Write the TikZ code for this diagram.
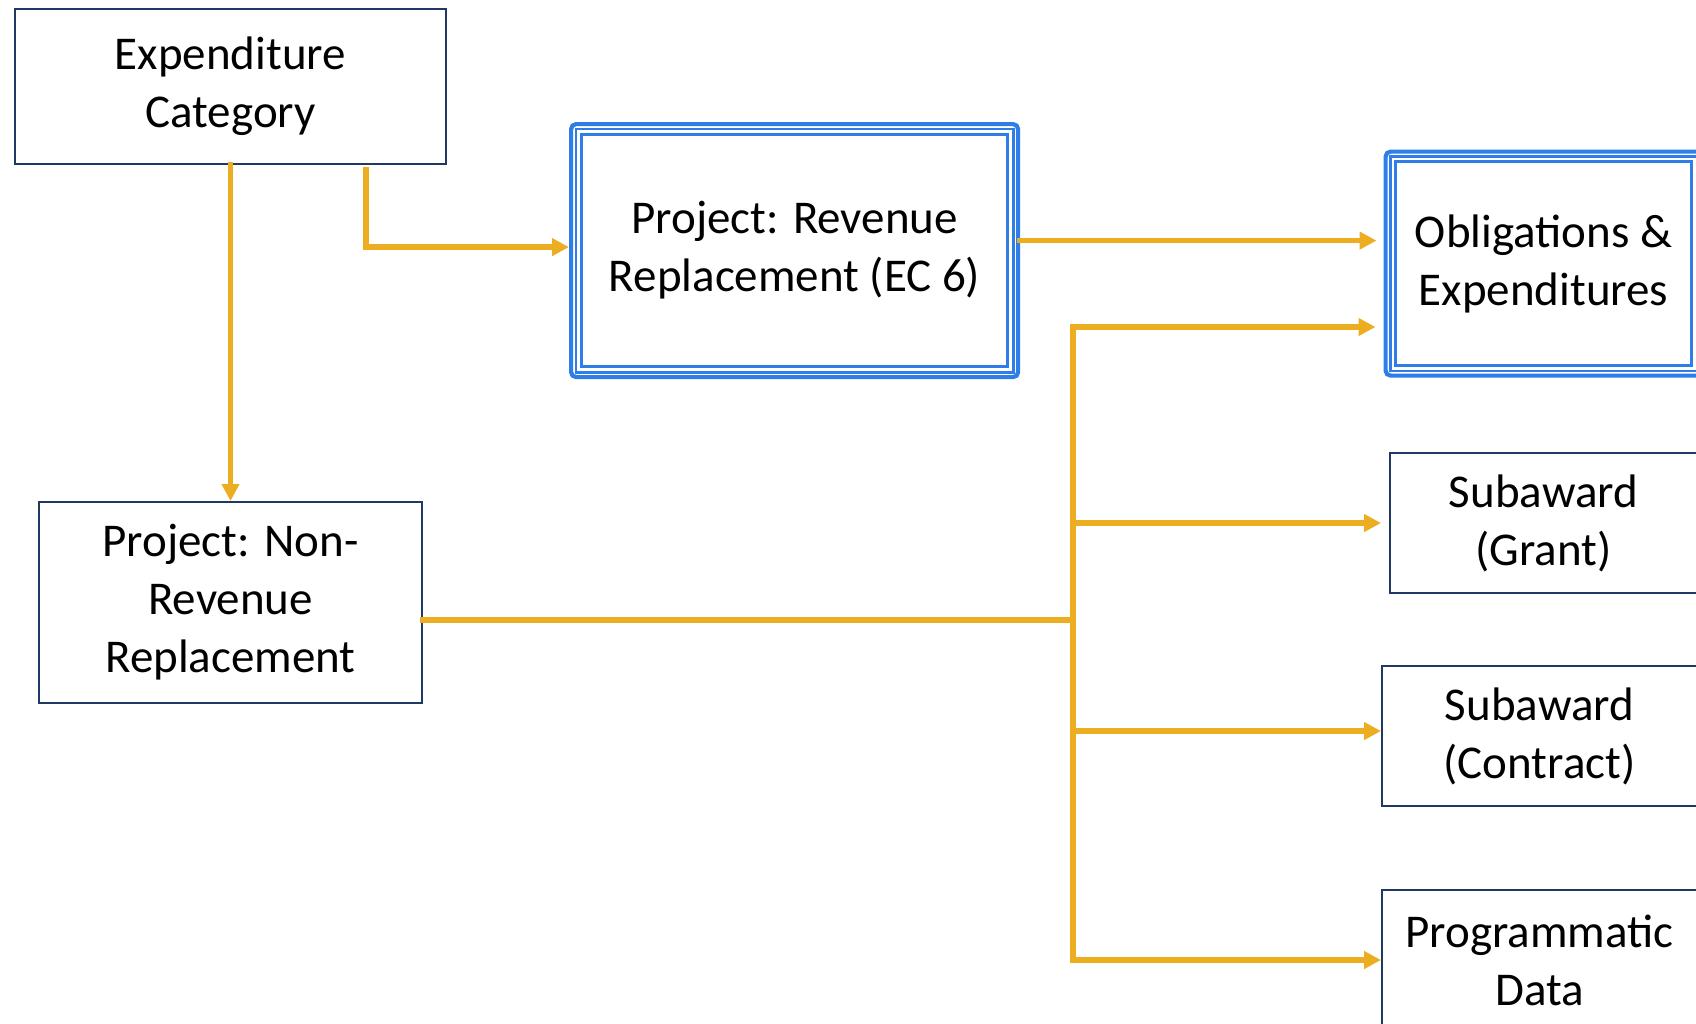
\documentclass[tikz,border=0pt]{standalone}
\usepackage{fontspec}
\setmainfont{Carlito}
\usetikzlibrary{arrows.meta,calc}
\definecolor{gold}{RGB}{237,173,33}
\definecolor{navy}{RGB}{31,56,100}
\definecolor{bl}{RGB}{47,125,230}
\begin{document}
\begin{tikzpicture}[x=1pt,y=-1pt,font=\fontsize{47}{58}\selectfont,
  box/.style={draw=navy,line width=2pt,inner sep=0pt,align=center,anchor=north west},
  dbox/.style={draw=bl,line width=4.2pt,rounded corners=5pt,inner sep=0pt,align=center,anchor=north west},
  ln/.style={draw=gold,line width=5.5pt,line cap=rect},
  arr/.style={ln,-{Triangle[length=17pt,width=17pt]}}]
\useasboundingbox (0,0) rectangle (1696,1023);
\clip (0,0) rectangle (1696,1023);
\node[box,minimum width=431pt,minimum height=155pt] (ec) at (14,8) {Expenditure\\Category};
\node[box,minimum width=383pt,minimum height=201pt] (nr) at (38,501) {Project: Non-\\Revenue\\Replacement};
\node[dbox,minimum width=447pt,minimum height=253pt] (rev) at (569,122) {Project: Revenue\\Replacement (EC 6)};
\draw[bl,line width=2.8pt] ([xshift=7pt,yshift=-7pt]rev.north west) rectangle ([xshift=-7pt,yshift=7pt]rev.south east);
\draw[bl,line width=2.6pt] ([xshift=12.7pt,yshift=-12.7pt]rev.north west) rectangle ([xshift=-12.7pt,yshift=12.7pt]rev.south east);
\node[dbox,minimum width=316pt,minimum height=224pt] (obl) at (1383.5,149.5) {Obligations \&\\Expenditures};
\draw[bl,line width=2.8pt] ([xshift=6.7pt,yshift=-6.7pt]obl.north west) rectangle ([xshift=-6.7pt,yshift=6.7pt]obl.south east);
\draw[bl,line width=2.6pt] ([xshift=12pt,yshift=-12pt]obl.north west) rectangle ([xshift=-12pt,yshift=12pt]obl.south east);
\node[box,minimum width=307pt,minimum height=140pt] (grant) at (1389,452) {Subaward\\(Grant)};
\node[box,minimum width=315pt,minimum height=140pt] (contract) at (1381,665) {Subaward\\(Contract)};
\node[box,minimum width=315pt,minimum height=140pt] (prog) at (1381,889) {Programmatic\\Data};
% connectors
\draw[arr] (ec) -- (nr);
\draw[arr] ([xshift=352pt,yshift=-5pt]ec.south west) |- ([yshift=3.5pt]rev.west);
\draw[arr,shorten >=7pt] ([yshift=10pt]rev.east) -- ([yshift=10pt]rev.east -| obl.west);
\coordinate (bt) at (1073,327);
\coordinate (bb) at (1073,959);
\draw[ln] (bt) -- (bb);
\draw[ln] ([yshift=-17.5pt]nr.east) -- ([yshift=-17.5pt]nr.east -| bt);
\draw[arr,shorten >=8pt] (bt) -- (bt -| obl.west);
\draw[arr,shorten >=8pt] (grant.west -| bt) -- (grant.west);
\draw[arr] ([yshift=5pt]contract.west -| bt) -- ([yshift=5pt]contract.west);
\draw[arr] (prog.west -| bt) -- (prog.west);
\end{tikzpicture}
\end{document}
